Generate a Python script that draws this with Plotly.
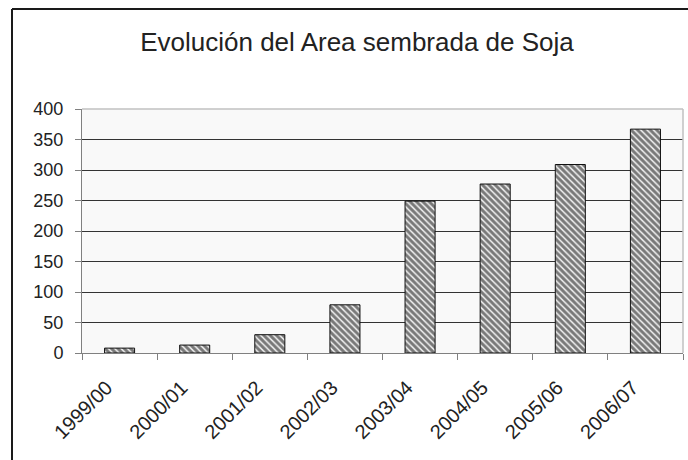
import plotly.graph_objects as go

campanas = ["1999/00", "2000/01", "2001/02", "2002/03", "2003/04", "2004/05", "2005/06", "2006/07"]
area = [8, 13, 30, 79, 249, 277, 309, 367]
y_ticks = [0, 50, 100, 150, 200, 250, 300, 350, 400]

W, H = 688, 460
L, R, T, B = 82, 683, 109, 353


def px_x(x):
    return (x - L) / (R - L)


def px_y(y):
    return (B - y) / (B - T)


fig = go.Figure(
    go.Bar(
        x=campanas,
        y=area,
        width=0.4,
        marker=dict(
            color="#f0f0f0",
            line=dict(color="#111111", width=1),
            pattern=dict(shape="\\", fgcolor="#000000", bgcolor="#f0f0f0", size=4.5, solidity=0.66),
        ),
    )
)

fig.update_layout(
    width=W,
    height=H,
    margin=dict(l=L, r=W - R, t=T, b=H - B),
    paper_bgcolor="white",
    plot_bgcolor="#f9f9f9",
    font=dict(family="Liberation Sans, Arial, sans-serif", color="#222222"),
    showlegend=False,
    bargap=0.6,
    title=dict(
        text="Evolución del Area sembrada de Soja",
        font=dict(size=26, color="#222222"),
        x=357 / W,
        xref="container",
        xanchor="center",
        y=1 - 42 / H,
        yref="container",
        yanchor="middle",
    ),
    xaxis=dict(
        showgrid=False,
        tickangle=-45,
        tickfont=dict(size=20),
        ticks="outside",
        tickson="boundaries",
        ticklen=6,
        tickcolor="#808080",
        showline=True,
        linecolor="#808080",
        linewidth=1,
        ticklabelstandoff=14,
        ticklabelshift=-13,
    ),
    yaxis=dict(
        range=[0, 400],
        tickvals=y_ticks,
        tickfont=dict(size=18),
        showgrid=True,
        gridcolor="#333333",
        gridwidth=1,
        ticks="outside",
        ticklen=6,
        tickcolor="#808080",
        showline=True,
        linecolor="#808080",
        linewidth=1,
        zeroline=False,
        ticklabelstandoff=8,
    ),
    shapes=[
        dict(type="line", xref="paper", yref="paper", x0=0, x1=1, y0=1, y1=1,
             line=dict(color="#c0c0c0", width=1.5), layer="above"),
        dict(type="line", xref="paper", yref="paper", x0=1, x1=1, y0=0, y1=1,
             line=dict(color="#c0c0c0", width=1.5), layer="above"),
        dict(type="line", xref="paper", yref="paper", x0=px_x(12), x1=px_x(690), y0=px_y(9), y1=px_y(9),
             line=dict(color="#1a1a1a", width=2), layer="above"),
        dict(type="line", xref="paper", yref="paper", x0=px_x(12), x1=px_x(12), y0=px_y(9), y1=px_y(462),
             line=dict(color="#1a1a1a", width=2), layer="above"),
    ],
)

fig.write_html(
    "out.html",
    config={"displayModeBar": False},
    post_script="document.body.style.margin='0';",
)
